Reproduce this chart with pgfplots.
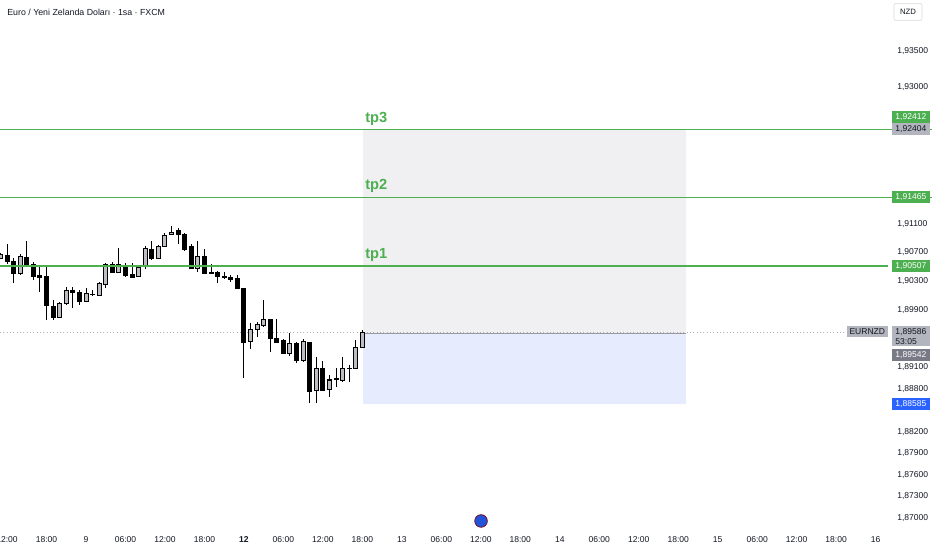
\documentclass[border=0pt]{standalone}
\usepackage{pgfplots}
\pgfplotsset{compat=1.18}
\usepackage{pgfplotstable}
\usepackage{fontspec}
\setmainfont{Liberation Sans}

\definecolor{tvgreen}{HTML}{4CAF50}
\definecolor{tvblue}{HTML}{2962FF}
\definecolor{tvlabel}{HTML}{B2B5BE}
\definecolor{tvdark}{HTML}{787B86}
\definecolor{tvtext}{HTML}{131722}
\definecolor{bullfill}{HTML}{BDBEC4}
\definecolor{profit}{HTML}{F0F0F2}
\definecolor{loss}{HTML}{E6ECFD}
\definecolor{entry}{HTML}{9598A1}

% EURNZD 1h candles, x = hours from 9 May 00:00 (weekend skipped)
\pgfplotstableread{
x   o       h       l       c
-13 1.90621 1.90690 1.90607 1.90676
-12 1.90662 1.90816 1.90537 1.90579
-11 1.90579 1.90621 1.90272 1.90412
-10 1.90398 1.90676 1.90384 1.90648
-9  1.90635 1.90858 1.90495 1.90537
-8  1.90537 1.90565 1.90314 1.90370
-7  1.90384 1.90495 1.90147 1.90356
-6  1.90356 1.90495 1.89756 1.89951
-5  1.89951 1.90035 1.89756 1.89798
-4  1.89798 1.90007 1.89784 1.89993
-3  1.89993 1.90216 1.89965 1.90175
-2  1.90175 1.90216 1.89924 1.90147
-1  1.90147 1.90175 1.89965 1.90021
0   1.90021 1.90202 1.90007 1.90119
1   1.90119 1.90175 1.90091 1.90112
2   1.90105 1.90286 1.90091 1.90272
3   1.90258 1.90551 1.90202 1.90537
4   1.90523 1.90565 1.90412 1.90425
5   1.90425 1.90760 1.90425 1.90523
6   1.90523 1.90551 1.90356 1.90384
7   1.90398 1.90551 1.90342 1.90356
8   1.90370 1.90523 1.90356 1.90495
9   1.90509 1.90788 1.90467 1.90760
10  1.90746 1.90858 1.90593 1.90621
11  1.90621 1.90802 1.90607 1.90788
12  1.90788 1.90969 1.90774 1.90941
13  1.90955 1.91067 1.90955 1.90983
14  1.90997 1.91039 1.90816 1.90955
15  1.90955 1.90969 1.90718 1.90746
16  1.90788 1.90816 1.90467 1.90481
17  1.90481 1.90858 1.90425 1.90648
18  1.90648 1.90746 1.90398 1.90412
19  1.90412 1.90537 1.90398 1.90405
20  1.90412 1.90439 1.90272 1.90356
21  1.90360 1.90425 1.90328 1.90354
22  1.90356 1.90384 1.90286 1.90328
23  1.90342 1.90384 1.90188 1.90202
24  1.90202 1.90202 1.88948 1.89450
25  1.89464 1.89714 1.89352 1.89631
26  1.89631 1.89728 1.89519 1.89701
27  1.89687 1.90035 1.89659 1.89770
28  1.89770 1.89770 1.89310 1.89505
29  1.89505 1.89770 1.89450 1.89450
30  1.89464 1.89491 1.89296 1.89296
31  1.89296 1.89575 1.89254 1.89436
32  1.89436 1.89450 1.89157 1.89199
33  1.89199 1.89491 1.89171 1.89464
34  1.89450 1.89450 1.88599 1.88767
35  1.88780 1.89240 1.88599 1.89087
36  1.89087 1.89185 1.88767 1.88780
37  1.88794 1.88990 1.88683 1.88920
38  1.88920 1.89087 1.88822 1.88934
39  1.88920 1.89240 1.88892 1.89087
40  1.89087 1.89129 1.88892 1.89080
41  1.89087 1.89477 1.89073 1.89380
42  1.89380 1.89617 1.89366 1.89586
}\candles

% take-profit levels as one zigzag path; the links between them lie off the page
\pgfplotstableread{
x      y
-20    1.92412
140    1.92412
140    1.91465
-20    1.91465
-20    1.90507
121.88 1.90507
}\levels

\newcommand{\lbl}{\fontsize{6.4}{7}\selectfont}

\begin{document}
\begin{tikzpicture}
\useasboundingbox (0,0) rectangle (699pt,412.5pt);
\begin{axis}[
    at={(0pt,412.5pt)}, anchor=north west,
    scale only axis,
    width=666pt, height=396pt,
    xmin=-13.07, xmax=121.88,
    ymin=1.86857, ymax=1.94217,
    clip=false,
    axis line style={draw=none},
    major tick length=0pt,
    tick style={draw=none},
    xtick={-12,-6,...,120},
    xticklabels={12:00,18:00,9,06:00,12:00,18:00,\textbf{12},06:00,12:00,18:00,13,06:00,12:00,18:00,14,06:00,12:00,18:00,15,06:00,12:00,18:00,16},
    xticklabel style={font=\lbl, text=tvtext, anchor=center, yshift=-9pt},
    ytick={1.870,1.873,1.876,1.879,1.882,1.888,1.891,1.899,1.903,1.907,1.911,1.920,1.930,1.935},
    yticklabels={{1,87000},{1,87300},{1,87600},{1,87900},{1,88200},{1,88800},{1,89100},{1,89900},{1,90300},{1,90700},{1,91100},{1,92000},{1,93000},{1,93500}},
    yticklabel pos=right,
    yticklabel style={font=\lbl, text=tvtext, anchor=west, inner sep=0pt, xshift=6.75pt},
]
% long position box
\addplot[fill=profit, draw=none, forget plot] coordinates {(42.1,1.89572) (91.2,1.89572) (91.2,1.92412) (42.1,1.92412) (42.1,1.89572)};
\addplot[fill=loss, draw=none, forget plot] coordinates {(42.1,1.88585) (91.2,1.88585) (91.2,1.89572) (42.1,1.89572) (42.1,1.88585)};
\addplot[color=entry, solid, line width=0.6pt, forget plot] coordinates {(42.1,1.89572) (91.2,1.89572)};

% last price line
\addplot[color=black!30, dotted, line width=0.5pt, forget plot] coordinates {(-13.07,1.89586) (121.88,1.89586)};

% wicks
\addplot[draw=none, mark=none, forget plot,
    error bars/.cd, y dir=both, y explicit, error mark=none,
    error bar style={draw=black, solid, line width=0.75pt}]
    table[x=x, y expr=(\thisrow{h}+\thisrow{l})/2, y error expr=(\thisrow{h}-\thisrow{l})/2] {\candles};
% bodies (black, outline for bull candles)
\addplot[draw=none, mark=none, forget plot,
    error bars/.cd, y dir=both, y explicit, error mark=none,
    error bar style={draw=black, solid, line width=3.75pt}]
    table[x=x, y expr=(\thisrow{o}+\thisrow{c})/2, y error expr=abs(\thisrow{c}-\thisrow{o})/2+0.00007] {\candles};
% bull candle fill
\addplot[draw=none, mark=none, forget plot,
    restrict expr to domain={\thisrow{c}-\thisrow{o}}{0.0002:1},
    error bars/.cd, y dir=both, y explicit, error mark=none,
    error bar style={draw=bullfill, solid, line width=2.25pt}]
    table[x=x, y expr=(\thisrow{o}+\thisrow{c})/2, y error expr=(\thisrow{c}-\thisrow{o})/2-0.00007] {\candles};

% take-profit lines
\addplot[color=tvgreen, solid, line width=1.1pt, mark=none, forget plot] table[x=x, y=y] {\levels};

% labels of the levels
\tikzset{tp/.style={text=tvgreen, font=\fontsize{11}{12}\selectfont\bfseries, anchor=base west, inner sep=0pt, yshift=5.6pt}}
\node[tp] at (axis cs:42.4,1.92412) {tp3};
\node[tp] at (axis cs:42.4,1.91465) {tp2};
\node[tp] at (axis cs:42.4,1.90507) {tp1};

% price scale labels
\tikzset{pl/.style={anchor=west, font=\lbl, inner xsep=2.4pt, inner ysep=0pt, minimum height=9pt, xshift=3pt}}
\node[pl, fill=white, minimum width=40pt, minimum height=30pt, inner sep=0pt] at (axis cs:121.88,1.91938) {};
\node[pl, fill=tvlabel, text=tvtext] at (axis cs:121.88,1.92412) {1,92404};
\node[pl, fill=tvgreen, text=white] at (axis cs:121.88,1.92412) [yshift=9pt] {1,92412};
\node[pl, fill=tvgreen, text=white] at (axis cs:121.88,1.91465) {1,91465};
\node[pl, fill=tvgreen, text=white] at (axis cs:121.88,1.90507) {1,90507};
\node[pl, fill=tvlabel, text=tvtext, minimum height=15pt, align=left, anchor=north west, font=\fontsize{6.4}{7.5}\selectfont] at (axis cs:121.88,1.89586) [yshift=4.5pt] {1,89586\\53:05};
\node[pl, fill=tvdark, text=white] at (axis cs:121.88,1.89542) [yshift=-14.5pt] {1,89542};
\node[pl, fill=tvblue, text=white] at (axis cs:121.88,1.88585) {1,88585};
\node[anchor=east, font=\lbl, fill=tvlabel, text=tvtext, inner xsep=2pt, inner ysep=0pt, minimum height=8.5pt] at (axis cs:121.88,1.89586) [yshift=0.5pt] {EURNZD};

% header and currency box
\node[anchor=west, font=\fontsize{6.6}{7}\selectfont, text=tvtext, inner sep=0pt] at (axis description cs:0.008,0.9773) {Euro / Yeni Zelanda Doları · 1sa · FXCM};
\node[draw=black!15, rounded corners=1.5pt, fill=white, font=\fontsize{5.8}{6}\selectfont, text=tvtext, minimum width=21pt, minimum height=13pt, inner sep=0pt] at (axis description cs:1.0225,0.9773) {NZD};

% symbol logo
\node[circle, fill=tvblue!85!black, draw=red!50!black, line width=0.5pt, minimum size=9.5pt, inner sep=0pt] at (axis description cs:0.5417,0.0133) {};
\end{axis}
\end{tikzpicture}
\end{document}
